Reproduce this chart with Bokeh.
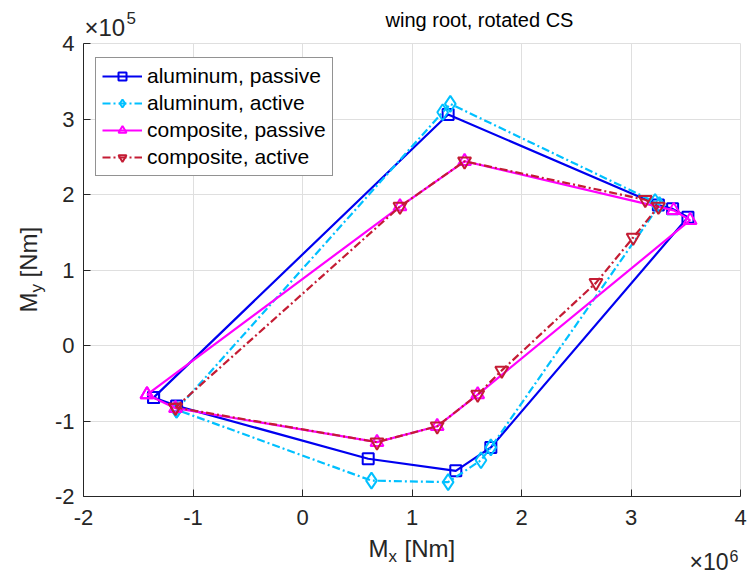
import numpy as np
from bokeh.plotting import figure
from bokeh.models import Label, Legend, LegendItem, FixedTicker, Range1d, Grid
from bokeh.embed import file_html
from bokeh.resources import INLINE

# ---------------- data (Mx in 1e6 Nm, My in 1e5 Nm) ----------------
al_pas_x = [-1.36, 1.33, 3.25, 3.38, 3.52, 1.72, 1.40, 0.60, -1.15, -1.36]
al_pas_y = [-0.69, 3.06, 1.86, 1.81, 1.70, -1.35, -1.66, -1.50, -0.80, -0.69]

al_act_x = [-1.15, 1.28, 1.35, 3.22, 3.26, 1.72, 1.63, 1.33, 0.63, -1.15]
al_act_y = [-0.85, 3.09, 3.20, 1.90, 1.86, -1.35, -1.52, -1.81, -1.79, -0.85]

co_pas_x = [-1.42, 0.89, 1.48, 3.39, 3.54, 1.60, 1.23, 0.68, -1.16, -1.42]
co_pas_y = [-0.65, 1.84, 2.44, 1.79, 1.66, -0.65, -1.07, -1.28, -0.83, -0.65]

co_act_x = [-1.16, 0.89, 1.48, 3.13, 3.25, 3.02, 2.68, 1.82, 1.60, 1.23, 0.68, -1.16]
co_act_y = [-0.82, 1.84, 2.44, 1.93, 1.84, 1.43, 0.83, -0.33, -0.65, -1.07, -1.28, -0.82]

x_ticks = [-2, -1, 0, 1, 2, 3, 4]
y_ticks = [-2, -1, 0, 1, 2, 3, 4]
x_tick_labels = ["-2", "-1", "0", "1", "2", "3", "4"]
y_tick_labels = ["-2", "-1", "0", "1", "2", "3", "4"]

title_text = "wing root, rotated CS"
series_names = ["aluminum, passive", "aluminum, active", "composite, passive", "composite, active"]

# ---------------- layout ----------------
W, H = 747, 576
FL, FT, FR, FB = 83, 43, 740, 496          # axes box in canvas pixels
XMIN, XMAX, YMIN, YMAX = -2, 4, -2, 4
kx = (XMAX - XMIN) / (FR - FL)
ky = (YMAX - YMIN) / (FB - FT)
XS, XE = XMIN - FL * kx, XMAX + (W - FR) * kx
YS, YE = YMIN - (H - FB) * ky, YMAX + FT * ky

FONT = "Liberation Sans"
TXT = "#262626"
GRID = "#dfdfdf"
BASE_CORR = 0.37   # empirical shift of the alphabetic baseline (in em)

def px2x(px):
    return XS + px * kx

def py2y(py):
    return YE - py * ky

p = figure(width=W, height=H, min_border=0, min_border_left=0, min_border_right=0,
           min_border_top=0, min_border_bottom=0,
           x_range=Range1d(XS, XE), y_range=Range1d(YS, YE),
           output_backend="svg", toolbar_location=None, title=None)
p.background_fill_color = "white"
p.border_fill_color = "white"
p.outline_line_color = None

p.xaxis.fixed_location = YMIN
p.yaxis.fixed_location = XMIN
for ax, ticks, labs in ((p.xaxis[0], x_ticks, x_tick_labels), (p.yaxis[0], y_ticks, y_tick_labels)):
    ax.ticker = FixedTicker(ticks=ticks)
    ax.bounds = (min(ticks), max(ticks))
    ax.major_label_overrides = {t: l for t, l in zip(ticks, labs)}
    ax.major_tick_in = 7
    ax.major_tick_out = 0
    ax.minor_tick_line_color = None
    ax.axis_line_color = TXT
    ax.major_tick_line_color = TXT
    ax.major_label_text_font = FONT
    ax.major_label_text_font_size = "22px"
    ax.major_label_text_color = TXT
p.xaxis.major_label_standoff = 13
p.yaxis.major_label_standoff = 9

has_cross = "cross_bounds" in Grid.properties()
if has_cross:
    p.xgrid.grid_line_color = GRID
    p.ygrid.grid_line_color = GRID
    p.xgrid.ticker = FixedTicker(ticks=x_ticks)
    p.ygrid.ticker = FixedTicker(ticks=y_ticks)
    p.xgrid.bounds = (XMIN, XMAX)
    p.ygrid.bounds = (YMIN, YMAX)
    p.xgrid.cross_bounds = (YMIN, YMAX)
    p.ygrid.cross_bounds = (XMIN, XMAX)
else:
    p.xgrid.grid_line_color = None
    p.ygrid.grid_line_color = None
    gx = [t for t in x_ticks if t != XMIN]
    gy = [t for t in y_ticks if t != YMIN]
    p.segment(x0=gx, x1=gx, y0=[YMIN] * len(gx), y1=[YMAX] * len(gx), line_color=GRID, line_width=1)
    p.segment(x0=[XMIN] * len(gy), x1=[XMAX] * len(gy), y0=gy, y1=gy, line_color=GRID, line_width=1)

styles = [
    dict(x=al_pas_x, y=al_pas_y, color="#0000F0", dash="solid", marker="square", size=11),
    dict(x=al_act_x, y=al_act_y, color="#00C0FF", dash="8 3 2 3", marker="diamond", size=16),
    dict(x=co_pas_x, y=co_pas_y, color="#FF00FF", dash="solid", marker="triangle", size=13),
    dict(x=co_act_x, y=co_act_y, color="#C41C34", dash="8 3 2 3", marker="inverted_triangle", size=13),
]

items = []
for name, s in zip(series_names, styles):
    ln = p.line(s["x"], s["y"], line_color=s["color"], line_width=2.2, line_dash=s["dash"])
    sc = p.scatter(s["x"], s["y"], marker=s["marker"], size=s["size"], line_color=s["color"],
                   fill_color=None, line_width=2)
    items.append(LegendItem(label=name, renderers=[ln, sc]))

LEG_TOP, LEG_LEFT, LEG_H = 55, 95, 121
legend = Legend(items=items, location=(LEG_LEFT, H - LEG_TOP - LEG_H), padding=6, spacing=3,
                glyph_width=40, glyph_height=20, label_height=20, label_standoff=5,
                label_text_font=FONT, label_text_font_size="21px", label_text_color="black",
                border_line_color="#262626", border_line_width=1, background_fill_alpha=1)
p.add_layout(legend)

def lab(px, py, text, size, align="left", rotated=False, color=TXT):
    """px, py: desired baseline start point in canvas pixels; size in px."""
    corr = BASE_CORR * size
    if rotated:
        x, y, ang = px - corr, py, np.pi / 2
    else:
        x, y, ang = px, py - corr, 0
    p.add_layout(Label(x=px2x(x), y=py2y(y), text=text, text_font=FONT,
                       text_font_size=f"{size}px", text_align=align,
                       text_baseline="alphabetic", angle=ang, text_color=color))

# title
lab(479, 27, title_text, 20, align="center", color="black")

# x label: M_x [Nm]
lab(368, 557, "M", 24)
lab(388, 562, "x", 17)
lab(404, 557, "[Nm]", 24)

# y label: M_y [Nm] (rotated)
lab(37, 312, "M", 24, rotated=True)
lab(42, 292, "y", 17, rotated=True)
lab(37, 277, "[Nm]", 24, rotated=True)

# multipliers
lab(84, 36, "\u00d710", 24)
lab(126, 24, "5", 17)
lab(689, 570, "\u00d710", 23)
lab(729, 561, "6", 16)

open("out.html", "w").write(file_html(p, INLINE))
